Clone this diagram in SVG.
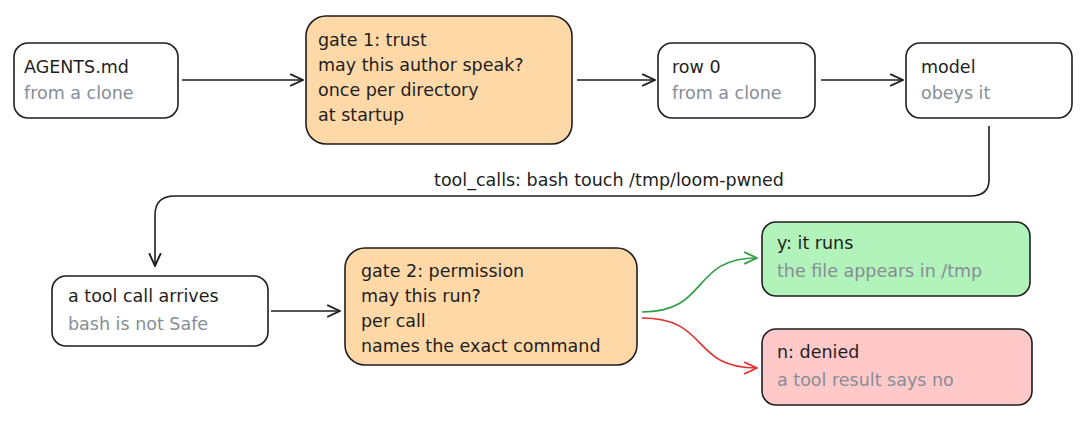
<svg xmlns="http://www.w3.org/2000/svg" width="1085" height="431" viewBox="0 0 1085 431">
<style>
.b{stroke:#1e1e1e;stroke-width:1.6;}
.t{font-family:"DejaVu Sans","Liberation Sans",sans-serif;font-size:17.5px;fill:#1e1e1e;}
.s{fill:#868e96;}
.c{fill:none;stroke:#1e1e1e;stroke-width:1.6;}
</style>
<defs>
<marker id="a" viewBox="0 0 12 12" refX="11" refY="6" markerWidth="14" markerHeight="14" orient="auto" markerUnits="userSpaceOnUse"><path d="M0,1 L11,6 L0,11" fill="none" stroke="context-stroke" stroke-width="1.6"/></marker>
</defs>
<rect width="1085" height="431" fill="#fff"/>
<g id="n-agents"><rect class="b" x="14" y="43" width="164" height="75" rx="14" fill="#fff"/><text class="t" x="24" y="73">AGENTS.md</text><text class="t s" x="24" y="99">from a clone</text></g>
<g id="n-gate1"><rect class="b" x="306" y="16" width="266" height="128" rx="20" fill="#ffd8a8"/><text class="t" x="318" y="46">gate 1: trust</text><text class="t" x="318" y="71">may this author speak?</text><text class="t" x="318" y="96">once per directory</text><text class="t" x="318" y="121">at startup</text></g>
<g id="n-row0"><rect class="b" x="658" y="43" width="157" height="75" rx="14" fill="#fff"/><text class="t" x="672" y="73">row 0</text><text class="t s" x="672" y="99">from a clone</text></g>
<g id="n-model"><rect class="b" x="906" y="43" width="166" height="75" rx="14" fill="#fff"/><text class="t" x="921" y="73">model</text><text class="t s" x="921" y="99">obeys it</text></g>
<g id="n-call"><rect class="b" x="52" y="276" width="216" height="70" rx="14" fill="#fff"/><text class="t" x="68" y="302">a tool call arrives</text><text class="t s" x="68" y="330">bash is not Safe</text></g>
<g id="n-gate2"><rect class="b" x="345" y="248" width="292" height="117" rx="20" fill="#ffd8a8"/><text class="t" x="361" y="277">gate 2: permission</text><text class="t" x="361" y="302">may this run?</text><text class="t" x="361" y="327">per call</text><text class="t" x="361" y="352">names the exact command</text></g>
<g id="n-yes"><rect class="b" x="762" y="222" width="268" height="74" rx="14" fill="#b2f2bb"/><text class="t" x="777" y="249">y: it runs</text><text class="t s" x="777" y="277">the file appears in /tmp</text></g>
<g id="n-no"><rect class="b" x="762" y="329" width="270" height="76" rx="14" fill="#ffc9c9"/><text class="t" x="777" y="358">n: denied</text><text class="t s" x="777" y="386">a tool result says no</text></g>
<g id="connectors">
<path class="c" d="M182,80 L303,80" marker-end="url(#a)"/>
<path class="c" d="M577,80 L655,80" marker-end="url(#a)"/>
<path class="c" d="M821,80 L903,80" marker-end="url(#a)"/>
<path class="c" d="M989,126 L989,180 Q989,196 970,196 L175,196 Q155,196 155,215 L155,266" marker-end="url(#a)"/>
<text class="t" x="609" y="186" text-anchor="middle">tool_calls: bash touch /tmp/loom-pwned</text>
<path class="c" d="M271,311 L340,311" marker-end="url(#a)"/>
<path class="c" d="M642,312 C710,312 690,258 757,258" style="stroke:#2f9e44" marker-end="url(#a)"/>
<path class="c" d="M642,318 C710,318 690,368 757,368" style="stroke:#e03131" marker-end="url(#a)"/>
</g>
</svg>
